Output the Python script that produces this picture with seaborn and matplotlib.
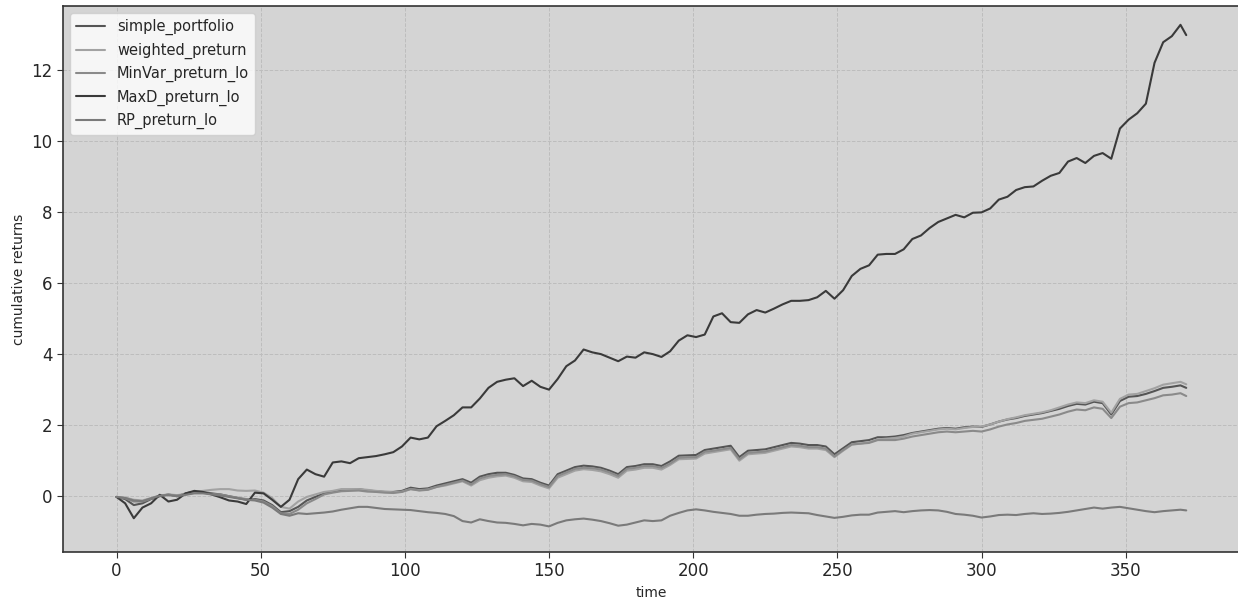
import matplotlib
matplotlib.use("Agg")
import matplotlib.pyplot as plt
import seaborn as sns
import pandas as pd

# time index sampled every 3 steps (last point 371)
time = list(range(0, 372, 3)) + [371]

simple_portfolio = [
    -0.02, -0.08, -0.25, -0.20, -0.08, 0.00, 0.05, 0.00, 0.08, 0.13,
    0.12, 0.08, 0.05, 0.00, -0.05, -0.10, -0.08, -0.12, -0.25, -0.45,
    -0.42, -0.30, -0.12, -0.02, 0.08, 0.12, 0.18, 0.18, 0.20, 0.16,
    0.14, 0.12, 0.12, 0.15, 0.24, 0.20, 0.22, 0.30, 0.36, 0.42,
    0.48, 0.38, 0.55, 0.62, 0.66, 0.66, 0.60, 0.50, 0.48, 0.38,
    0.30, 0.62, 0.72, 0.82, 0.86, 0.84, 0.80, 0.72, 0.62, 0.82,
    0.85, 0.90, 0.90, 0.85, 0.98, 1.14, 1.15, 1.16, 1.30, 1.34,
    1.38, 1.42, 1.10, 1.28, 1.30, 1.32, 1.38, 1.44, 1.50, 1.48,
    1.44, 1.44, 1.40, 1.18, 1.35, 1.52, 1.55, 1.58, 1.66, 1.66,
    1.68, 1.72, 1.78, 1.82, 1.86, 1.90, 1.92, 1.90, 1.94, 1.96,
    1.95, 2.02, 2.10, 2.16, 2.20, 2.26, 2.30, 2.34, 2.40, 2.46,
    2.54, 2.60, 2.58, 2.66, 2.62, 2.30, 2.68, 2.80, 2.82, 2.88,
    2.96, 3.05, 3.08, 3.12, 3.05,
]

weighted_preturn = [
    -0.02, -0.04, -0.10, -0.12, -0.05, 0.02, 0.05, 0.03, 0.06, 0.12,
    0.15, 0.18, 0.20, 0.20, 0.16, 0.15, 0.16, 0.10, -0.05, -0.30,
    -0.35, -0.15, -0.02, 0.05, 0.12, 0.15, 0.20, 0.20, 0.20, 0.18,
    0.15, 0.13, 0.11, 0.13, 0.20, 0.17, 0.19, 0.26, 0.30, 0.36,
    0.42, 0.30, 0.45, 0.52, 0.56, 0.58, 0.52, 0.42, 0.40, 0.30,
    0.22, 0.52, 0.62, 0.72, 0.76, 0.74, 0.70, 0.62, 0.52, 0.72,
    0.75, 0.80, 0.80, 0.75, 0.88, 1.04, 1.05, 1.06, 1.20, 1.24,
    1.28, 1.32, 1.00, 1.18, 1.20, 1.22, 1.28, 1.34, 1.40, 1.38,
    1.34, 1.34, 1.30, 1.10, 1.28, 1.45, 1.48, 1.52, 1.60, 1.62,
    1.64, 1.68, 1.76, 1.80, 1.84, 1.88, 1.90, 1.88, 1.92, 1.95,
    1.96, 2.02, 2.10, 2.17, 2.22, 2.28, 2.32, 2.36, 2.42, 2.50,
    2.58, 2.64, 2.62, 2.70, 2.66, 2.35, 2.74, 2.86, 2.88, 2.96,
    3.04, 3.14, 3.18, 3.22, 3.15,
]

MinVar_preturn_lo = [
    -0.02, -0.06, -0.15, -0.15, -0.07, 0.02, 0.04, 0.02, 0.05, 0.10,
    0.10, 0.06, 0.05, 0.00, -0.04, -0.08, -0.10, -0.15, -0.28, -0.48,
    -0.50, -0.38, -0.20, -0.08, 0.05, 0.10, 0.14, 0.15, 0.16, 0.13,
    0.12, 0.10, 0.09, 0.12, 0.20, 0.16, 0.18, 0.26, 0.32, 0.38,
    0.44, 0.33, 0.50, 0.57, 0.60, 0.62, 0.56, 0.46, 0.44, 0.34,
    0.26, 0.57, 0.67, 0.77, 0.80, 0.79, 0.75, 0.67, 0.57, 0.77,
    0.80, 0.85, 0.85, 0.80, 0.92, 1.08, 1.10, 1.10, 1.25, 1.28,
    1.32, 1.36, 1.04, 1.22, 1.24, 1.26, 1.32, 1.38, 1.44, 1.42,
    1.38, 1.38, 1.34, 1.12, 1.30, 1.46, 1.48, 1.50, 1.58, 1.58,
    1.58, 1.62, 1.68, 1.72, 1.76, 1.80, 1.82, 1.80, 1.82, 1.84,
    1.82, 1.88, 1.96, 2.02, 2.06, 2.12, 2.15, 2.18, 2.24, 2.30,
    2.38, 2.44, 2.42, 2.50, 2.46, 2.20, 2.52, 2.62, 2.64, 2.70,
    2.76, 2.84, 2.86, 2.90, 2.82,
]

MaxD_preturn_lo = [
    -0.02, -0.20, -0.62, -0.32, -0.20, 0.04, -0.15, -0.10, 0.08, 0.15,
    0.12, 0.05, -0.03, -0.12, -0.15, -0.22, 0.10, 0.08, -0.10, -0.30,
    -0.10, 0.48, 0.75, 0.62, 0.55, 0.95, 0.98, 0.93, 1.07, 1.10,
    1.13, 1.18, 1.24, 1.40, 1.65, 1.60, 1.65, 1.97, 2.12, 2.28,
    2.50, 2.50, 2.75, 3.05, 3.22, 3.28, 3.32, 3.10, 3.25, 3.08,
    3.00, 3.30, 3.66, 3.82, 4.13, 4.05, 4.00, 3.90, 3.80, 3.93,
    3.90, 4.05, 4.00, 3.92, 4.08, 4.38, 4.53, 4.48, 4.55, 5.06,
    5.15, 4.90, 4.88, 5.12, 5.24, 5.17, 5.28, 5.40, 5.50, 5.50,
    5.52, 5.60, 5.78, 5.56, 5.80, 6.20, 6.40, 6.50, 6.80, 6.82,
    6.82, 6.95, 7.24, 7.34, 7.55, 7.72, 7.82, 7.92, 7.85, 7.98,
    7.99, 8.10, 8.35, 8.43, 8.62, 8.70, 8.72, 8.88, 9.02, 9.10,
    9.42, 9.52, 9.38, 9.58, 9.66, 9.50, 10.35, 10.60, 10.78, 11.05,
    12.20, 12.78, 12.95, 13.27, 12.98,
]

RP_preturn_lo = [
    -0.02, -0.05, -0.12, -0.14, -0.06, 0.01, 0.03, 0.00, 0.04, 0.08,
    0.08, 0.05, 0.02, -0.02, -0.06, -0.10, -0.12, -0.18, -0.32, -0.50,
    -0.55, -0.48, -0.50, -0.48, -0.46, -0.43, -0.38, -0.34, -0.30, -0.30,
    -0.33, -0.36, -0.37, -0.38, -0.39, -0.42, -0.45, -0.47, -0.50, -0.56,
    -0.70, -0.74, -0.65, -0.70, -0.74, -0.75, -0.78, -0.82, -0.78, -0.80,
    -0.85, -0.75, -0.68, -0.65, -0.63, -0.66, -0.70, -0.76, -0.83, -0.80,
    -0.74, -0.68, -0.70, -0.68, -0.55, -0.47, -0.40, -0.37, -0.40, -0.44,
    -0.47, -0.50, -0.55, -0.55, -0.52, -0.50, -0.49, -0.47, -0.46, -0.47,
    -0.48, -0.53, -0.57, -0.61, -0.58, -0.54, -0.52, -0.52, -0.46, -0.44,
    -0.42, -0.45, -0.42, -0.40, -0.39, -0.40, -0.44, -0.50, -0.52, -0.55,
    -0.60, -0.57, -0.53, -0.52, -0.53, -0.50, -0.48, -0.50, -0.49, -0.47,
    -0.44, -0.40, -0.36, -0.32, -0.35, -0.32, -0.30, -0.34, -0.38, -0.42,
    -0.45, -0.42, -0.40, -0.38, -0.40,
]

series_names = ["simple_portfolio", "weighted_preturn", "MinVar_preturn_lo",
                "MaxD_preturn_lo", "RP_preturn_lo"]
series_values = [simple_portfolio, weighted_preturn, MinVar_preturn_lo,
                 MaxD_preturn_lo, RP_preturn_lo]
line_colors = ["#555555", "#a2a2a2", "#8a8a8a", "#3a3a3a", "#7a7a7a"]

sns.set_style("ticks")

fig = plt.figure(figsize=(12.38, 5.99), dpi=100)
ax = fig.add_axes([0.0509, 0.0785, 0.9505, 0.9115])
ax.set_facecolor("#d4d4d4")

for name, vals, col in zip(series_names, series_values, line_colors):
    df = pd.DataFrame({"time": time, "cumulative returns": vals})
    sns.lineplot(data=df, x="time", y="cumulative returns", ax=ax,
                 color=col, linewidth=1.5, label=name)

ax.set_ylim(-1.57, 13.8)
ax.grid(True, linestyle="--", color="#bdbdbd", linewidth=0.7)
ax.set_xlabel("time", fontsize=10)
ax.set_ylabel("cumulative returns", fontsize=10)
ax.tick_params(axis="both", labelsize=12, color="#333333", length=4)
for sp in ax.spines.values():
    sp.set_color("#333333")
    sp.set_linewidth(1.2)

ax.legend(loc="upper left", fontsize=10.5, frameon=True)

fig.savefig("out.png", dpi=100, facecolor="white")
